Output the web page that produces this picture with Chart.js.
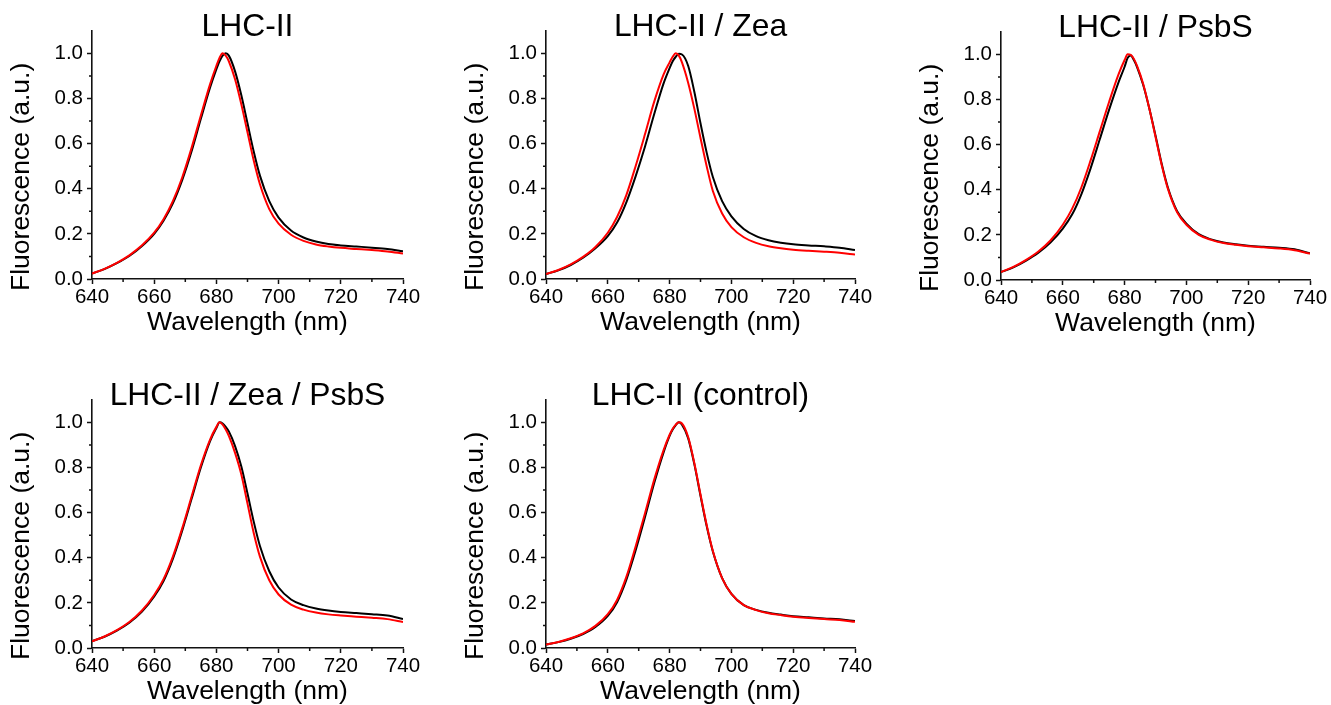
<!DOCTYPE html>
<html>
<head>
<meta charset="utf-8">
<script src="https://cdn.jsdelivr.net/npm/chart.js@4.4.1/dist/chart.umd.min.js"></script>
<style>
  html, body { margin: 0; padding: 0; background: #ffffff; width: 1331px; height: 705px; overflow: hidden; }
  canvas { position: absolute; }
</style>
</head>
<body>
<canvas id="c0"></canvas>
<canvas id="c1"></canvas>
<canvas id="c2"></canvas>
<canvas id="c3"></canvas>
<canvas id="c4"></canvas>
<script>
// ---------------- DATA ----------------
const wavelengths = [640, 644, 648, 652, 656, 660, 663, 666, 669, 672, 675, 678, 680, 681, 682, 683, 684, 686, 688, 690, 692, 694, 697, 700, 704, 708, 712, 716, 720, 725, 730, 735, 740];

// LHC-II
const lhcBlack = [0.024, 0.044, 0.07, 0.102, 0.145, 0.2, 0.258, 0.335, 0.438, 0.565, 0.71, 0.85, 0.93, 0.965, 0.99, 1.0, 0.99, 0.92, 0.815, 0.69, 0.565, 0.458, 0.345, 0.272, 0.215, 0.184, 0.166, 0.155, 0.149, 0.144, 0.139, 0.133, 0.123];
const lhcRed   = [0.024, 0.045, 0.072, 0.105, 0.148, 0.205, 0.265, 0.345, 0.45, 0.58, 0.725, 0.865, 0.945, 0.98, 1.0, 0.99, 0.965, 0.885, 0.775, 0.65, 0.525, 0.42, 0.31, 0.245, 0.196, 0.169, 0.153, 0.144, 0.138, 0.133, 0.128, 0.122, 0.113];

// LHC-II / Zea
const zeaBlack = [0.022, 0.038, 0.062, 0.094, 0.136, 0.19, 0.25, 0.34, 0.455, 0.585, 0.73, 0.865, 0.935, 0.965, 0.985, 0.998, 0.995, 0.945, 0.83, 0.69, 0.56, 0.452, 0.345, 0.278, 0.222, 0.19, 0.172, 0.161, 0.154, 0.149, 0.145, 0.139, 0.128];
const zeaRed   = [0.022, 0.04, 0.065, 0.098, 0.142, 0.205, 0.275, 0.372, 0.5, 0.64, 0.785, 0.905, 0.96, 0.985, 1.0, 0.99, 0.96, 0.87, 0.755, 0.625, 0.5, 0.39, 0.29, 0.23, 0.185, 0.16, 0.145, 0.136, 0.13, 0.125, 0.121, 0.116, 0.108];

// LHC-II / PsbS
const psbsBlack = [0.035, 0.056, 0.085, 0.12, 0.166, 0.228, 0.29, 0.38, 0.495, 0.625, 0.755, 0.875, 0.945, 0.985, 0.995, 0.975, 0.945, 0.865, 0.76, 0.64, 0.515, 0.41, 0.305, 0.25, 0.203, 0.18, 0.166, 0.158, 0.152, 0.147, 0.143, 0.136, 0.118];
const psbsRed   = [0.035, 0.058, 0.088, 0.125, 0.175, 0.245, 0.315, 0.41, 0.53, 0.66, 0.79, 0.91, 0.975, 1.0, 0.998, 0.98, 0.95, 0.87, 0.76, 0.635, 0.51, 0.405, 0.3, 0.245, 0.2, 0.178, 0.164, 0.156, 0.15, 0.145, 0.14, 0.132, 0.117];

// LHC-II / Zea / PsbS
const zeaPsbsBlack = [0.03, 0.05, 0.077, 0.112, 0.16, 0.228, 0.297, 0.395, 0.52, 0.66, 0.8, 0.918, 0.975, 1.0, 0.995, 0.98, 0.96, 0.895, 0.805, 0.685, 0.56, 0.452, 0.34, 0.268, 0.215, 0.19, 0.175, 0.166, 0.16, 0.155, 0.15, 0.144, 0.128];
const zeaPsbsRed   = [0.03, 0.051, 0.079, 0.115, 0.165, 0.235, 0.305, 0.405, 0.53, 0.67, 0.81, 0.925, 0.98, 1.0, 0.99, 0.968, 0.94, 0.865, 0.77, 0.64, 0.51, 0.405, 0.3, 0.237, 0.192, 0.17, 0.157, 0.149, 0.144, 0.139, 0.134, 0.128, 0.115];

// LHC-II (control)
const controlBlack = [0.015, 0.026, 0.041, 0.062, 0.093, 0.142, 0.203, 0.302, 0.432, 0.578, 0.73, 0.865, 0.94, 0.968, 0.988, 1.0, 0.99, 0.93, 0.815, 0.675, 0.54, 0.428, 0.31, 0.24, 0.19, 0.169, 0.156, 0.148, 0.141, 0.136, 0.131, 0.127, 0.12];
const controlRed   = [0.015, 0.027, 0.043, 0.065, 0.098, 0.15, 0.213, 0.315, 0.45, 0.595, 0.745, 0.875, 0.945, 0.972, 0.99, 1.0, 0.995, 0.935, 0.82, 0.68, 0.545, 0.43, 0.31, 0.24, 0.19, 0.168, 0.154, 0.146, 0.139, 0.133, 0.128, 0.124, 0.116];

const panelTitles = ['LHC-II', 'LHC-II / Zea', 'LHC-II / PsbS', 'LHC-II / Zea / PsbS', 'LHC-II (control)'];
const blackSeries = [lhcBlack, zeaBlack, psbsBlack, zeaPsbsBlack, controlBlack];
const redSeries   = [lhcRed, zeaRed, psbsRed, zeaPsbsRed, controlRed];

const xTicks = [640, 660, 680, 700, 720, 740];
const xMinorTicks = [650, 670, 690, 710, 730];
const yTicks = [0.0, 0.2, 0.4, 0.6, 0.8, 1.0];
const yMinorTicks = [0.1, 0.3, 0.5, 0.7, 0.9];
const xAxisTitle = 'Wavelength (nm)';
const yAxisTitle = 'Fluorescence (a.u.)';

// ---------------- LAYOUT ----------------
const panelBoxes = [
  { left: 0,   top: 0,   width: 430, plotW: 311 },
  { left: 454, top: 0,   width: 430, plotW: 309 },
  { left: 909, top: 1,   width: 422, plotW: 309 },
  { left: 0,   top: 369, width: 430, plotW: 311 },
  { left: 454, top: 369, width: 430, plotW: 309 }
];
const CANVAS_H = 345;
const Y_AXIS_W = 92;
const X_AXIS_H = 66;
const FONT = '"Liberation Sans", Arial, Helvetica, sans-serif';

Chart.defaults.font.family = FONT;
Chart.defaults.color = '#000';

const minorTickPlugin = {
  id: 'minorTicks',
  afterDraw(chart) {
    const { ctx, chartArea: a, scales: { x, y } } = chart;
    ctx.save();
    ctx.strokeStyle = '#111';
    ctx.lineWidth = 1.5;
    ctx.beginPath();
    xMinorTicks.forEach(v => { const px = x.getPixelForValue(v); ctx.moveTo(px, a.bottom); ctx.lineTo(px, a.bottom + 3); });
    yMinorTicks.forEach(v => { const py = y.getPixelForValue(v); ctx.moveTo(a.left, py); ctx.lineTo(a.left - 3, py); });
    ctx.stroke();
    ctx.restore();
  }
};

const yTitlePlugin = {
  id: 'yTitle',
  afterDraw(chart) {
    const { ctx, chartArea: a } = chart;
    ctx.save();
    ctx.translate(a.left - 70, a.bottom + 12);
    ctx.rotate(-Math.PI / 2);
    ctx.font = '26.5px ' + FONT;
    ctx.fillStyle = '#000';
    ctx.textAlign = 'left';
    ctx.textBaseline = 'middle';
    ctx.fillText(yAxisTitle, 0, 0);
    ctx.restore();
  }
};

panelTitles.forEach((title, i) => {
  const box = panelBoxes[i];
  const cv = document.getElementById('c' + i);
  cv.width = box.width;
  cv.height = CANVAS_H;
  cv.style.left = box.left + 'px';
  cv.style.top = box.top + 'px';
  const rightPad = box.width - Y_AXIS_W - box.plotW;

  new Chart(cv, {
    type: 'line',
    data: {
      datasets: [
        {
          label: 'red',
          data: wavelengths.map((w, k) => ({ x: w, y: redSeries[i][k] })),
          borderColor: '#ff0000',
          borderWidth: 2,
          pointRadius: 0,
          fill: false,
          cubicInterpolationMode: 'monotone'
        },
        {
          label: 'black',
          data: wavelengths.map((w, k) => ({ x: w, y: blackSeries[i][k] })),
          borderColor: '#000000',
          borderWidth: 2,
          pointRadius: 0,
          fill: false,
          cubicInterpolationMode: 'monotone'
        }
      ]
    },
    options: {
      responsive: false,
      animation: false,
      devicePixelRatio: 1,
      events: [],
      layout: { padding: { left: 0, right: rightPad, top: 0, bottom: 0 } },
      plugins: {
        legend: { display: false },
        tooltip: { enabled: false },
        title: {
          display: true,
          text: title,
          fullSize: false,
          color: '#000',
          font: { size: 31.8, weight: 'normal', lineHeight: 1 },
          padding: { top: 11, bottom: -12 }
        }
      },
      scales: {
        x: {
          type: 'linear',
          min: 640,
          max: 740,
          afterBuildTicks: s => { s.ticks = xTicks.map(v => ({ value: v })); },
          afterFit: s => { s.height = X_AXIS_H; },
          ticks: {
            autoSkip: false,
            maxRotation: 0,
            padding: 1,
            color: '#000',
            font: { size: 20.5 },
            callback: v => String(v)
          },
          grid: { drawOnChartArea: false, drawTicks: true, tickLength: 5, tickColor: '#111', tickWidth: 1.5 },
          border: { display: true, color: '#111', width: 1.6 },
          title: {
            display: true,
            text: xAxisTitle,
            color: '#000',
            font: { size: 26.5, lineHeight: 1 },
            padding: { top: 0, bottom: 9 }
          }
        },
        y: {
          type: 'linear',
          min: 0,
          max: 1.1,
          afterBuildTicks: s => { s.ticks = yTicks.map(v => ({ value: v })); },
          afterFit: s => { s.width = Y_AXIS_W; },
          ticks: {
            autoSkip: false,
            padding: 4,
            color: '#000',
            font: { size: 20.5 },
            callback: v => Number(v).toFixed(1)
          },
          grid: { drawOnChartArea: false, drawTicks: true, tickLength: 5, tickColor: '#111', tickWidth: 1.5 },
          border: { display: true, color: '#111', width: 1.6 }
        }
      }
    },
    plugins: [minorTickPlugin, yTitlePlugin]
  });
});
</script>
</body>
</html>
